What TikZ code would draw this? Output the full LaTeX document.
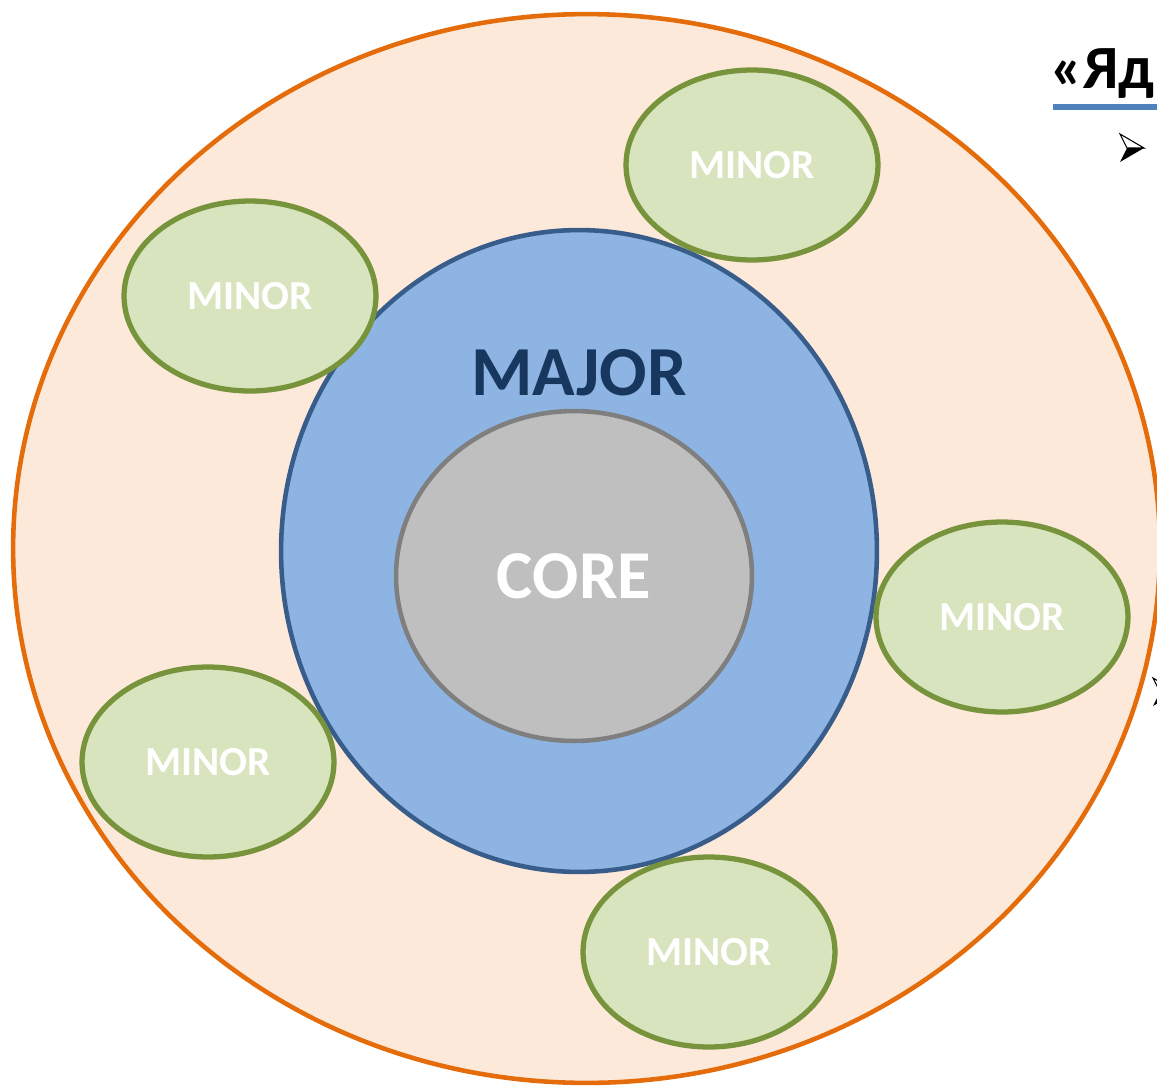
\documentclass[tikz,border=0pt]{standalone}
\usepackage{fontspec}
\setmainfont{Carlito}
\usepackage{tikz}
\usetikzlibrary{shapes.geometric}
\definecolor{orangeline}{RGB}{228,108,10}
\definecolor{peach}{RGB}{253,233,217}
\definecolor{bluefill}{RGB}{142,180,227}
\definecolor{blueline}{RGB}{56,93,138}
\definecolor{bluetext}{RGB}{23,55,94}
\definecolor{greyfill}{RGB}{191,191,191}
\definecolor{greyline}{RGB}{127,127,127}
\definecolor{greenfill}{RGB}{215,228,189}
\definecolor{greenline}{RGB}{119,147,60}
\definecolor{titleline}{RGB}{79,129,189}
\tikzset{
  zone/.style = {ellipse, inner sep=0pt, align=center,
    font=\bfseries, line width=2.6pt},
  outer/.style = {zone, draw=orangeline, fill=peach,
    minimum width=22.94cm, minimum height=21.38cm},% anneau exterieur
  major/.style = {zone, draw=blueline, fill=bluefill,
    minimum width=11.92cm, minimum height=12.84cm},% cercle major
  core/.style = {zone, draw=greyline, fill=greyfill, text=white,
    font=\bfseries\fontsize{39pt}{39pt}\selectfont,
    minimum width=7.12cm, minimum height=6.6cm},% noyau
  minor/.style = {zone, draw=greenline, fill=greenfill, text=white,
    line width=3pt, font=\bfseries\fontsize{23.5pt}{23.5pt}\selectfont,
    minimum width=5.04cm, minimum height=3.8cm}% satellites
}

\begin{document}
\begin{tikzpicture}[x=0.02cm,y=-0.02cm]
\useasboundingbox (0,0) rectangle (1157,1086);
\clip (0,0) rectangle (1157,1086);
\node [outer] (ring) at (586.5,548.5) {};
\node [major] (majorzone) at (579,551) {};
\node [core] (corezone) at (574,576) {CORE};
\node [text=bluetext, font=\bfseries\fontsize{40pt}{40pt}\selectfont]
  (majortext) at (579,373) {MAJOR};
\node [minor] (minorA) at (752,165) {MINOR};
\node [minor] (minorB) at (250,296) {MINOR};
\node [minor] (minorC) at (1002,617) {MINOR};
\node [minor] (minorD) at (208,762) {MINOR};
\node [minor] (minorE) at (709,952) {MINOR};
% titre coupe par le bord
\node [anchor=base west, inner sep=0pt,
  font=\bfseries\fontsize{35pt}{35pt}\selectfont] (title) at (1050,88) {«Ядро»};
\draw [titleline, line width=3.4pt] (1053,107) -- (1180,107);
% puces
\foreach \px/\py in {1120/148, 1153/692}
{
  \draw [line width=0.6pt, fill=white] (\px,\py-14) -- (\px+24,\py) -- (\px+7,\py) -- cycle;
  \fill (\px+7,\py) -- (\px+24,\py) -- (\px,\py+14) -- cycle;
}
\end{tikzpicture}
\end{document}
